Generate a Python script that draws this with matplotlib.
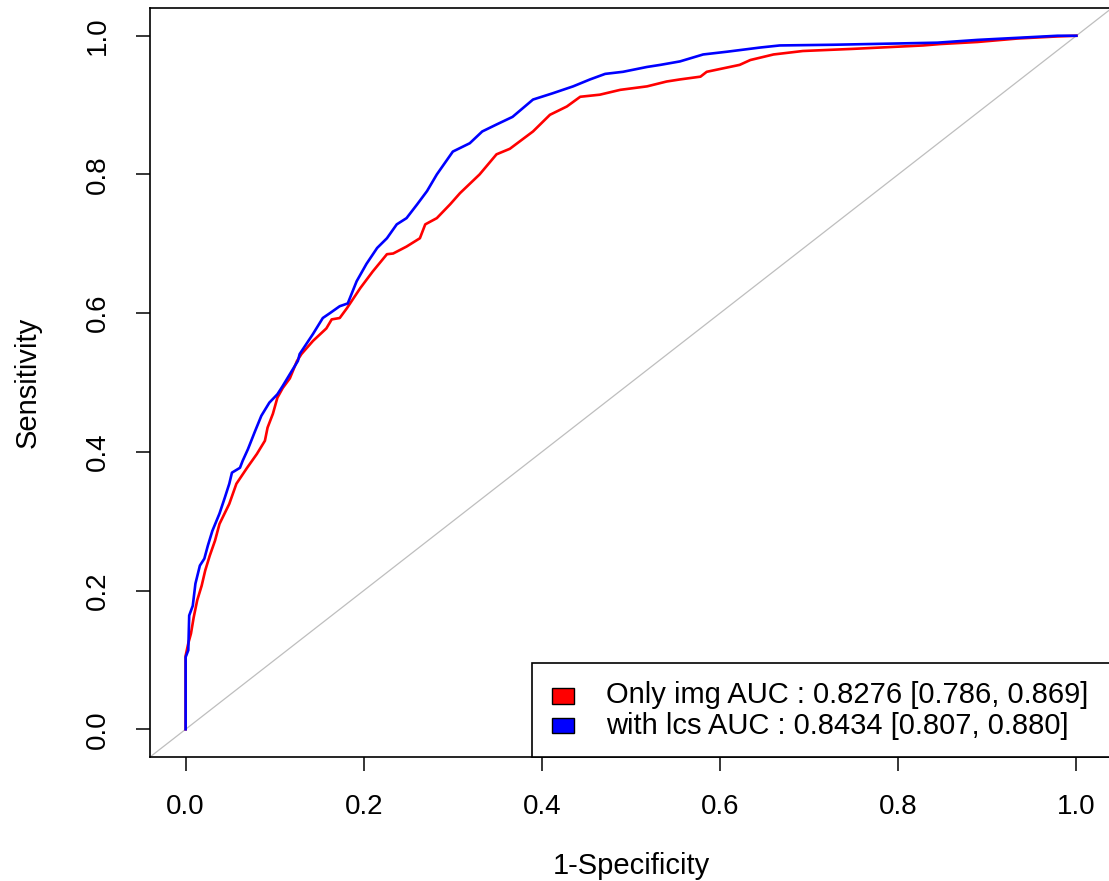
import matplotlib
matplotlib.use("Agg")
import matplotlib.pyplot as plt
from matplotlib.patches import Rectangle

plt.rcParams['font.family'] = ['Liberation Sans', 'DejaVu Sans']

# ROC curve: "Only img"
fpr_img = [0.0, 0.0, 0.003, 0.006, 0.009, 0.013, 0.018, 0.022, 0.027, 0.033, 0.038,
           0.049, 0.057, 0.069, 0.080, 0.089, 0.092, 0.098, 0.103, 0.109, 0.117,
           0.125, 0.130, 0.143, 0.158, 0.164, 0.173, 0.181, 0.196, 0.210, 0.226,
           0.233, 0.248, 0.263, 0.269, 0.282, 0.297, 0.308, 0.330, 0.349, 0.364,
           0.390, 0.409, 0.428, 0.443, 0.465, 0.488, 0.518, 0.540, 0.555, 0.578,
           0.585, 0.622, 0.634, 0.660, 0.693, 0.748, 0.828, 0.847, 0.889, 0.934,
           0.979, 1.0]
tpr_img = [0.0, 0.106, 0.124, 0.138, 0.161, 0.186, 0.207, 0.229, 0.250, 0.272, 0.296,
           0.325, 0.354, 0.377, 0.397, 0.416, 0.435, 0.455, 0.478, 0.492, 0.506,
           0.531, 0.541, 0.560, 0.578, 0.591, 0.593, 0.607, 0.636, 0.660, 0.685,
           0.686, 0.696, 0.708, 0.728, 0.737, 0.757, 0.773, 0.800, 0.829, 0.837,
           0.862, 0.886, 0.898, 0.912, 0.915, 0.922, 0.927, 0.934, 0.937, 0.941,
           0.948, 0.958, 0.965, 0.973, 0.978, 0.981, 0.986, 0.988, 0.991, 0.996,
           0.999, 1.0]

# ROC curve: "with lcs"
fpr_lcs = [0.0, 0.0, 0.003, 0.004, 0.008, 0.011, 0.016, 0.021, 0.025, 0.030, 0.038,
           0.044, 0.049, 0.052, 0.061, 0.064, 0.070, 0.078, 0.085, 0.094, 0.103,
           0.109, 0.117, 0.126, 0.128, 0.143, 0.154, 0.162, 0.173, 0.182, 0.192,
           0.203, 0.215, 0.226, 0.237, 0.248, 0.260, 0.271, 0.282, 0.300, 0.319,
           0.333, 0.349, 0.367, 0.390, 0.412, 0.435, 0.454, 0.471, 0.491, 0.518,
           0.533, 0.555, 0.581, 0.608, 0.645, 0.667, 0.727, 0.844, 0.889, 0.934,
           0.979, 1.0]
tpr_lcs = [0.0, 0.104, 0.114, 0.164, 0.178, 0.210, 0.236, 0.246, 0.265, 0.286, 0.311,
           0.334, 0.354, 0.370, 0.377, 0.387, 0.404, 0.430, 0.452, 0.471, 0.483,
           0.495, 0.512, 0.531, 0.541, 0.570, 0.593, 0.600, 0.610, 0.614, 0.646,
           0.671, 0.694, 0.708, 0.728, 0.737, 0.757, 0.776, 0.800, 0.833, 0.845,
           0.862, 0.872, 0.883, 0.908, 0.917, 0.927, 0.937, 0.945, 0.948, 0.955,
           0.958, 0.963, 0.973, 0.977, 0.983, 0.986, 0.987, 0.990, 0.994, 0.997,
           1.0, 1.0]

series_labels = ["Only img AUC : 0.8276 [0.786, 0.869]",
                 "with lcs AUC : 0.8434 [0.807, 0.880]"]
series_colors = ["#ff0000", "#0000ff"]
ticks = [0.0, 0.2, 0.4, 0.6, 0.8, 1.0]
tick_labels = ["0.0", "0.2", "0.4", "0.6", "0.8", "1.0"]

W, H = 1109, 881
fig = plt.figure(figsize=(W / 100, H / 100), dpi=100)
ax = fig.add_axes([150 / W, (H - 757) / H, 962 / W, 749 / H])

ax.set_xlim(-0.04, 1.04)
ax.set_ylim(-0.04, 1.04)

ax.axline((0, 0), slope=1, color="#bebebe", lw=0.9, zorder=1)
ax.plot(fpr_img, tpr_img, color=series_colors[0], lw=1.9, zorder=2)
ax.plot(fpr_lcs, tpr_lcs, color=series_colors[1], lw=1.9, zorder=3)

ax.set_xticks(ticks)
ax.set_xticklabels(tick_labels)
ax.set_yticks(ticks)
ax.set_yticklabels(tick_labels, rotation=90, va="center")
ax.tick_params(axis="both", direction="out", length=10, width=1.1, labelsize=20,
               colors="black")
ax.tick_params(axis="x", pad=17)
ax.tick_params(axis="y", pad=18)
for s in ax.spines.values():
    s.set_linewidth(1.2)
    s.set_color("black")

ax.set_xlabel("1-Specificity", fontsize=21)
ax.set_ylabel("Sensitivity", fontsize=21)
ax.xaxis.set_label_coords(0.5, -0.1455)
ax.xaxis.label.set_va("center")
ax.yaxis.set_label_coords(-0.127, 0.5)
ax.yaxis.label.set_va("center")

# legend (bottom-right, R style)
ax.add_patch(Rectangle((0.389, -0.04), 0.7, 0.135, facecolor="white",
                       edgecolor="black", lw=1.2, zorder=5, clip_on=False))
sq_y = [0.037, -0.006]
txt_y = [0.049, 0.004]
for lab, col, sy, ty in zip(series_labels, series_colors, sq_y, txt_y):
    ax.add_patch(Rectangle((0.411, sy), 0.025, 0.022, facecolor=col,
                           edgecolor="black", lw=1.0, zorder=6))
    ax.text(0.472, ty, lab, fontsize=21, va="center", ha="left", zorder=7)

fig.savefig("out.png", dpi=100)
